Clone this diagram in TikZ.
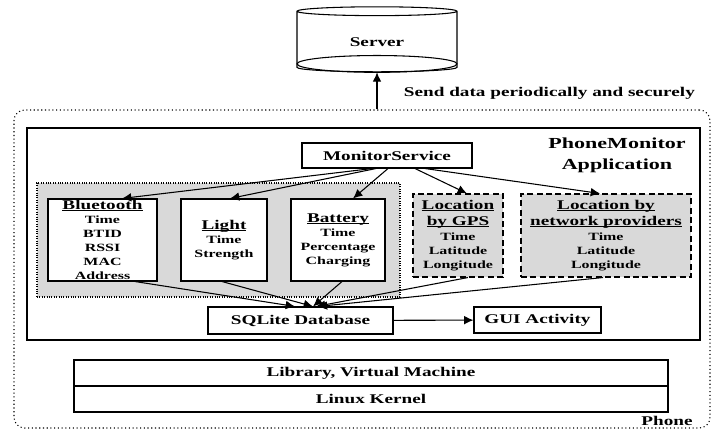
\documentclass[tikz,border=0pt]{standalone}
\usepackage{fontspec}
\setmainfont{Liberation Serif}[FakeStretch=1.44]
\usetikzlibrary{arrows.meta,shapes.geometric}

\tikzset{
  box/.style={draw, align=center, inner sep=0pt, fill=white},
  title/.style={font=\fontsize{10}{10.5}\selectfont\bfseries},
  sensor/.style={box, font=\fontsize{8.3}{10.5}\selectfont\bfseries},
  locbox/.style={sensor, fill=black!15, dash pattern=on 4.5pt off 2.5pt},
}
% underlined heading, rule close to the baseline
\newcommand{\ttl}[1]{{\fontsize{10}{10.5}\selectfont\setbox0\hbox{#1}\rlap{\rule[-0.9pt]{\wd0}{0.6pt}}\box0}}

\begin{document}
\begin{tikzpicture}[x=0.75pt,y=-0.75pt,>={Latex[length=7pt,width=6.5pt]},line width=0.8pt]
    \useasboundingbox (0,0) rectangle (714,431);

    \node[cylinder, shape border rotate=90, draw, aspect=0.14, minimum width=120pt, minimum height=48.75pt, title] (server) at (377,42.5) {Server};
    \draw ([yshift=6.3pt]server.south) ellipse [x radius=60pt, y radius=6.3pt];

    \node[draw, dotted, rounded corners=8pt, minimum width=522pt, minimum height=238.5pt] (phone) at (362,269) {};
    \node[draw, minimum width=504.75pt, minimum height=159pt] (app) at (363.5,234) {};
    \draw[->] (phone.north -| server.south) -- (server.south);
    \node[anchor=west, title] (send) at (399,93) {Send data periodically and securely};
    \node[align=center, font=\fontsize{11.5}{15.75}\selectfont\bfseries] (applbl) at (617,155.5) {PhoneMonitor\\Application};
    \node[title] (phonelbl) at (667,421) {Phone};

    \node[box, title, minimum width=127.5pt, minimum height=18.75pt] (ms) at (387,155.5) {MonitorService};

    \node[draw, densely dotted, fill=black!15, minimum width=272.25pt, minimum height=85.5pt] (sens) at (218.5,240) {};
    \node[sensor, minimum width=81.75pt, minimum height=61.5pt] (bt) at (102.5,240) {\ttl{Bluetooth}\\Time\\BTID\\RSSI\\MAC\\Address};
    \node[sensor, minimum width=64.5pt, minimum height=61.5pt] (light) at (224,240) {\ttl{Light}\\Time\\Strength};
    \node[sensor, minimum width=70.5pt, minimum height=61.5pt] (batt) at (338,240) {\ttl{Battery}\\Time\\Percentage\\Charging};
    \node[locbox, minimum width=67.5pt, minimum height=62.25pt] (gps) at (458,235.5) {\ttl{Location}\\[1.5pt]\ttl{by GPS}\\[0.75pt]Time\\Latitude\\Longitude};
    \node[locbox, minimum width=127.5pt, minimum height=62.25pt] (net) at (606,235.5) {\ttl{Location by}\\[1.5pt]\ttl{network providers}\\[0.75pt]Time\\Latitude\\Longitude};

    \node[box, title, minimum width=138.75pt, minimum height=20.25pt] (db) at (300.5,320.5) {SQLite Database};
    \node[box, title, minimum width=95.25pt, minimum height=19.5pt] (gui) at (537.5,320) {GUI Activity};

    \node[box, title, minimum width=445.5pt, minimum height=19.5pt] (lib) at (371,373) {Library, Virtual Machine};
    \node[box, title, minimum width=445.5pt, minimum height=19.5pt] (kern) at (371,399) {Linux Kernel};

    \foreach \to/\a/\b in {bt/-11.25/14.6, light/-8.25/4.5, batt/0.75/11.25, gps/21/6.75, net/28.5/-4.5}
      \draw[->] ([xshift=\a pt]ms.south) -- ([xshift=\b pt]\to.north);

    \foreach \from/\a/\b in {bt/24.4/-4.1, light/-1.5/9.4, batt/3/9.4, gps/7.5/11.6, net/-2.25/13}
      \draw[->] ([xshift=\a pt]\from.south) -- ([xshift=\b pt]db.north);

    \draw[->] (db) -- (gui);
\end{tikzpicture}
\end{document}
